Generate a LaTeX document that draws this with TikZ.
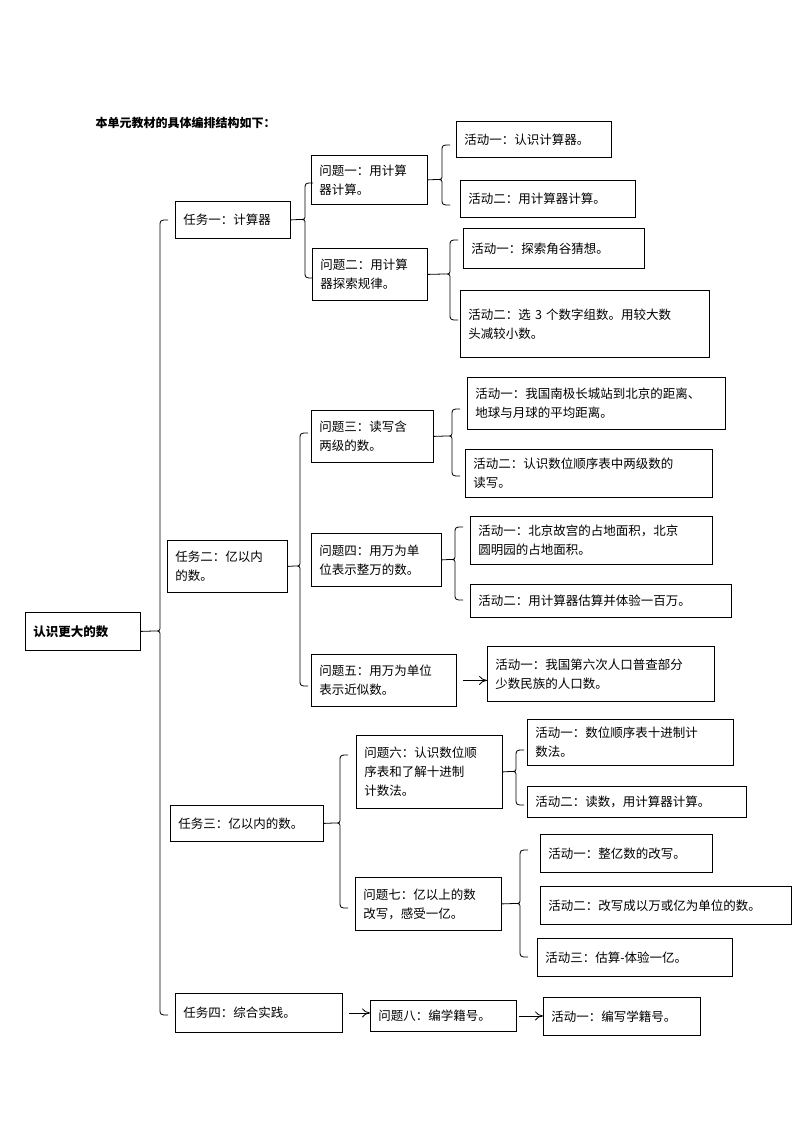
\documentclass[tikz,border=0pt]{standalone}
\usepackage{fontspec}
\setmainfont{Noto Sans CJK SC}
\usetikzlibrary{calc, arrows.meta}

\tikzset{
  box/.style={draw, thick, inner sep=0pt, font=\fontsize{12.5}{19}\selectfont},
  brace/.style={thick},
  link/.style={thick, -{To[length=8pt,width=9pt]}}
}
% box from (x1,y1) to (x2,y2)
\newcommand{\bx}[6]{%
  \node[box, anchor=north west, minimum width={#4-#2}, minimum height={#5-#3},
        text width={#4-#2-16}, align=left] (#1) at (#2,#3) {#6};}
% brace: parent, spine x, top y, bottom y, tip y
\newcommand{\brc}[5]{%
  \draw[brace] (#2+8,#3) .. controls (#2,#3) .. (#2,#3+7) -- (#2,#5-5)
    .. controls (#2,#5) .. (#2-6,#5) .. controls (#2,#5) .. (#2,#5+5)
    -- (#2,#4-7) .. controls (#2,#4) .. (#2+8,#4);
  \draw[brace] (#1.east) -- (#2-6,#5);}

\begin{document}
\begin{tikzpicture}[x=1pt,y=-1pt]
  \useasboundingbox (0,0) rectangle (794,1123);

  \node[anchor=west, font=\fontsize{12}{14}\selectfont\bfseries] (title) at (92,123) {本单元教材的具体编排结构如下：};

  \bx{root}{25}{612}{140}{650}{\bfseries 认识更大的数}

  \bx{t1}{175}{201}{290}{238}{任务一：计算器}
  \bx{t2}{167}{540}{287}{592}{任务二：亿以内\\的数。}
  \bx{t3}{170}{805}{323}{841}{任务三：亿以内的数。}
  \bx{t4}{175}{993}{342}{1032}{任务四：综合实践。}

  \bx{q1}{311}{155}{427}{204}{问题一：用计算\\器计算。}
  \bx{q2}{312}{248}{427}{300}{问题二：用计算\\器探索规律。}
  \bx{q3}{311}{410}{433}{462}{问题三：读写含\\两级的数。}
  \bx{q4}{311}{533}{441}{586}{问题四：用万为单\\位表示整万的数。}
  \bx{q5}{311}{654}{456}{706}{问题五：用万为单位\\表示近似数。}
  \bx{q6}{356}{735}{502}{808}{问题六：认识数位顺\\序表和了解十进制\\计数法。}
  \bx{q7}{355}{877}{501}{930}{问题七：亿以上的数\\改写，感受一亿。}
  \bx{q8}{370}{1000}{516}{1031}{问题八：编学籍号。}

  \bx{a11}{456}{121}{611}{157}{活动一：认识计算器。}
  \bx{a12}{460}{180}{635}{217}{活动二：用计算器计算。}
  \bx{a21}{463}{228}{644}{268}{活动一：探索角谷猜想。}
  \bx{a22}{460}{290}{709}{357}{\fontsize{12.5}{31}\selectfont 活动二：选 3 个数字组数。用较大数\\头减较小数。}
  \bx{a31}{467}{377}{725}{429}{活动一：我国南极长城站到北京的距离、\\地球与月球的平均距离。}
  \bx{a32}{465}{449}{712}{497}{活动二：认识数位顺序表中两级数的\\读写。}
  \bx{a41}{470}{516}{712}{564}{活动一：北京故宫的占地面积，北京\\圆明园的占地面积。}
  \bx{a42}{470}{584}{731}{617}{活动二：用计算器估算并体验一百万。}
  \bx{a51}{487}{646}{714}{701}{活动一：我国第六次人口普查部分\\少数民族的人口数。}
  \bx{a61}{527}{719}{733}{765}{活动一：数位顺序表十进制计\\数法。}
  \bx{a62}{527}{786}{746}{817}{活动二：读数，用计算器计算。}
  \bx{a71}{540}{834}{712}{872}{活动一：整亿数的改写。}
  \bx{a72}{540}{886}{791}{924}{活动二：改写成以万或亿为单位的数。}
  \bx{a73}{537}{938}{732}{976}{活动三：估算-体验一亿。}
  \bx{a81}{543}{997}{700}{1035}{活动一：编写学籍号。}

  % braces
  \brc{root}{160}{220}{1015}{631}
  \brc{t1}{305}{183}{278}{219.5}
  \brc{t2}{300}{433}{686}{566}
  \brc{t3}{340}{755}{908}{823}
  \brc{q1}{442}{145}{205}{179.5}
  \brc{q2}{450}{240}{320}{274}
  \brc{q3}{452}{409}{476}{436}
  \brc{q4}{455}{527}{600}{559.5}
  \brc{q6}{516}{750}{805}{771.5}
  \brc{q7}{520}{850}{957}{903.5}

  % single links
  \draw[link] (q5.east) ++(6,0) coordinate (q5o) -- (a51.west |- q5o);
  \draw[link] (t4.east) ++(6,0) coordinate (t4o) -- (q8.west |- t4o);
  \draw[link] (q8.east) ++(2,0) coordinate (q8o) -- (a81.west |- q8o);
\end{tikzpicture}
\end{document}
